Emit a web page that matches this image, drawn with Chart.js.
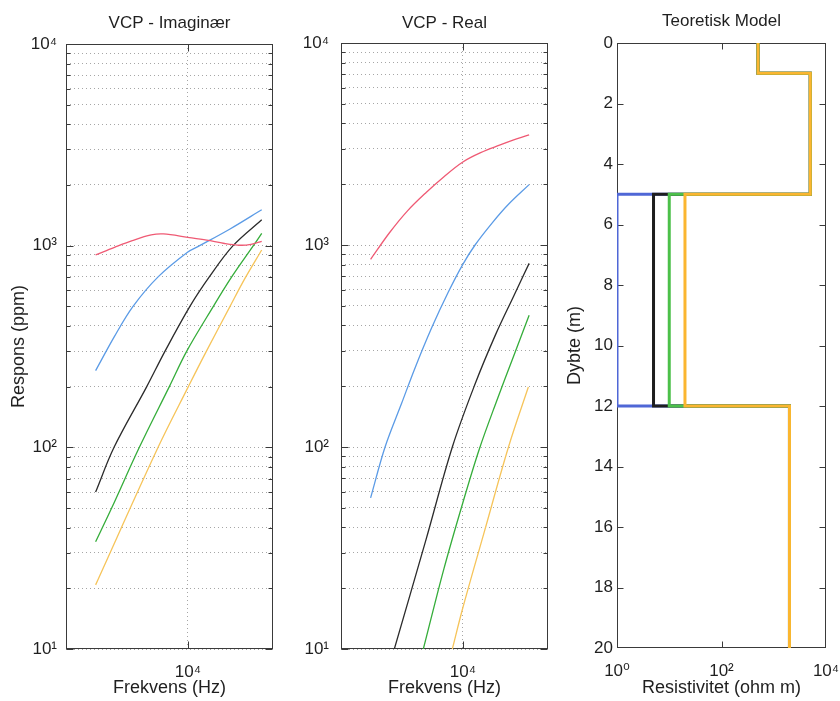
<!DOCTYPE html>
<html>
<head>
<meta charset="utf-8">
<script src="https://cdn.jsdelivr.net/npm/chart.js@4.4.1/dist/chart.umd.min.js"></script>
<style>
  html, body { margin: 0; padding: 0; background: #fff; }
  #wrap { position: relative; width: 840px; height: 701px; overflow: hidden; }
  #wrap canvas { position: absolute; top: 0; }
</style>
</head>
<body>
<div id="wrap">
  <canvas id="imag" width="280" height="701" style="left:0px;width:280px;height:701px"></canvas>
  <canvas id="real" width="280" height="701" style="left:280px;width:280px;height:701px"></canvas>
  <canvas id="model" width="280" height="701" style="left:560px;width:280px;height:701px"></canvas>
</div>
<script>
// ---- VCP response, imaginary part: [frequency Hz, response ppm]
const imagRed    = [[1750,900],[2500,981],[3500,1059],[5000,1130],[6300,1143],[10000,1099],[14300,1064],[20000,1025],[26800,1005],[33000,1015],[40400,1050]];
const imagBlue   = [[1750,240],[2500,355],[3550,500],[5700,700],[10000,930],[12500,1000],[22200,1210],[40400,1507]];
const imagBlack  = [[1750,60],[2480,100],[4600,200],[6500,300],[10400,500],[15000,700],[23500,1000],[40400,1345]];
const imagGreen  = [[1750,34],[2370,50],[4000,100],[7050,200],[9800,300],[16200,500],[22900,700],[34500,1000],[40400,1150]];
const imagYellow = [[1750,20.8],[5700,100],[10100,200],[13800,290],[22200,500],[29500,690],[40400,952]];

// ---- VCP response, real part: [frequency Hz, response ppm]
const realRed    = [[1750,850],[2500,1150],[3500,1472],[5000,1820],[7000,2180],[10000,2578],[14000,2866],[20000,3119],[28000,3361],[35000,3506]];
const realBlue   = [[1750,56],[2300,100],[3150,165],[4060,247],[5560,390],[7600,585],[10000,802],[12600,1000],[17300,1280],[23700,1590],[35000,1990]];
const realBlack  = [[2740,10],[5000,35],[8200,100],[12600,205],[18600,361],[26000,555],[35000,811]];
const realGreen  = [[4740,10],[7000,25],[10000,53],[13600,97],[18950,169],[26000,280],[35000,449]];
const realYellow = [[8200,10],[10000,16],[15000,38],[23700,100],[34500,198]];

// ---- Layered earth models: layer top depths (m) and resistivity (ohm m) per layer
const layerTops   = [0, 1, 5, 12];
const modelBottom = 20;
const resBlue   = [500, 5000, 1, 2000];
const resBlack  = [500, 5000, 5, 2000];
const resGreen  = [500, 5000, 10, 2000];
const resOrange = [500, 5000, 20, 2000];

// ---- Tick values and labels
const freqTicks      = [10000];
const freqTickLabels = ['10⁴'];
const respMajor       = [10, 100, 1000, 10000];
const respMajorLabels = ['10¹', '10²', '10³', '10⁴'];
const depthTicks = [0, 2, 4, 6, 8, 10, 12, 14, 16, 18, 20];
const resTicks      = [1, 100, 10000];
const resTickLabels = ['10⁰', '10²', '10⁴'];

// colours
const C = {
  red: '#ef5a74', blue: '#5b9be6', black: '#2b2b2b', green: '#35ad3a', yellow: '#f6c45a',
  mBlue: '#4f67d6', mBlack: '#1e1e1e', mGreen: '#4cc04a', mOrange: '#fbb630',
  text: '#1f1f1f', frame: '#3a3a3a', grid: '#a6a6a6'
};
const FONT = '"Liberation Sans", Arial, "DejaVu Sans", sans-serif';
Chart.defaults.font.family = FONT;
Chart.defaults.color = C.text;

// dotted minor/major grid positions on the response axis (1..9 x 10^n)
const respGrid = [];
for (let e = 1; e < 4; e++) for (let m = 1; m < 10; m++) respGrid.push(m * Math.pow(10, e));
respGrid.push(10000);

const isDecade = v => Math.abs(Math.log10(v) - Math.round(Math.log10(v))) < 1e-9;
const toPoints = pairs => pairs.map(([x, y]) => ({ x, y }));

// axes box with inward tick marks on all four sides, plus a title centred over the plot area
function framePlugin(title, titleY, yLen, xLen) {
  return {
    id: 'frame',
    beforeDatasetsDraw(chart) {
      const { ctx, chartArea: a, scales } = chart;
      const L = Math.round(a.left) + 0.5, R = Math.round(a.right) - 0.5;
      const T = Math.round(a.top) + 0.5, B = Math.round(a.bottom) - 0.5;
      ctx.save();
      ctx.strokeStyle = C.frame;
      ctx.lineWidth = 1;
      ctx.setLineDash([]);
      ctx.beginPath();
      scales.y.ticks.forEach(t => {
        const len = yLen(t.value);
        if (!len) return;
        const p = Math.round(scales.y.getPixelForValue(t.value)) + 0.5;
        ctx.moveTo(L, p); ctx.lineTo(L + len, p);
        ctx.moveTo(R, p); ctx.lineTo(R - len, p);
      });
      scales.x.ticks.forEach(t => {
        const len = xLen(t.value);
        if (!len) return;
        const p = Math.round(scales.x.getPixelForValue(t.value)) + 0.5;
        ctx.moveTo(p, B); ctx.lineTo(p, B - len);
        ctx.moveTo(p, T); ctx.lineTo(p, T + len);
      });
      ctx.stroke();
      ctx.strokeRect(L, T, R - L, B - T);
      ctx.restore();
    },
    afterDraw(chart) {
      const { ctx, chartArea: a } = chart;
      ctx.save();
      ctx.font = '17px ' + FONT;
      ctx.fillStyle = C.text;
      ctx.textAlign = 'center';
      ctx.textBaseline = 'middle';
      ctx.fillText(title, (a.left + a.right) / 2, titleY);
      ctx.restore();
    }
  };
}

// fixed axis sizes so the three plot areas line up
const noOverhang = s => { s.paddingLeft = 0; s.paddingRight = 0; };

function responseChart(id, title, series, p) {
  return new Chart(document.getElementById(id), {
    type: 'scatter',
    data: {
      datasets: series.map(s => ({
        data: toPoints(s.data),
        borderColor: s.color,
        backgroundColor: s.color,
        borderWidth: 1.3,
        showLine: true,
        tension: 0.35,
        pointRadius: 0,
        pointHoverRadius: 0,
        fill: false
      }))
    },
    options: {
      responsive: false,
      animation: false,
      events: [],
      layout: { padding: { left: 0, right: p.right, top: p.top, bottom: 0 } },
      plugins: {
        legend: { display: false },
        tooltip: { enabled: false },
        title: { display: false }
      },
      scales: {
        x: {
          type: 'logarithmic', min: 1000, max: 50000, position: 'bottom',
          afterBuildTicks: s => { s.ticks = freqTicks.map(v => ({ value: v })); },
          afterFit: s => { s.height = 701 - p.bottomEdge; noOverhang(s); },
          ticks: {
            autoSkip: false, maxRotation: 0, padding: 13, color: C.text,
            font: { size: 17 },
            callback: v => { const i = freqTicks.indexOf(v); return i < 0 ? '' : freqTickLabels[i]; }
          },
          grid: { display: true, drawTicks: false, color: C.grid, lineWidth: 1 },
          border: { display: false, dash: [1, 3] },
          title: {
            display: true, text: 'Frekvens (Hz)', color: C.text,
            font: { size: 18 }, padding: { top: 0, bottom: 2 }
          }
        },
        y: {
          type: 'logarithmic', min: 10, max: 10000, position: 'left',
          afterBuildTicks: s => { s.ticks = respGrid.map(v => ({ value: v })); },
          afterFit: s => { s.width = p.yWidth; },
          ticks: {
            autoSkip: false, padding: p.yPad, color: C.text,
            font: { size: 17 },
            callback: v => { const i = respMajor.indexOf(v); return i < 0 ? '' : respMajorLabels[i]; }
          },
          grid: { display: true, drawTicks: false, color: C.grid, lineWidth: 1 },
          border: { display: false, dash: [1, 3] },
          title: {
            display: !!p.yTitle, text: p.yTitle || '', color: C.text,
            font: { size: 18 }, padding: { top: 8, bottom: 0 }
          }
        }
      }
    },
    plugins: [framePlugin(title, 23, v => (isDecade(v) ? 7 : 4), v => 7)]
  });
}

responseChart('imag', 'VCP - Imaginær', [
  { data: imagRed, color: C.red },
  { data: imagBlue, color: C.blue },
  { data: imagBlack, color: C.black },
  { data: imagGreen, color: C.green },
  { data: imagYellow, color: C.yellow }
], { right: 7, top: 44, yWidth: 66, yPad: 9, yTitle: 'Respons (ppm)', bottomEdge: 649 });

responseChart('real', 'VCP - Real', [
  { data: realRed, color: C.red },
  { data: realBlue, color: C.blue },
  { data: realBlack, color: C.black },
  { data: realGreen, color: C.green },
  { data: realYellow, color: C.yellow }
], { right: 12, top: 43, yWidth: 61, yPad: 12, yTitle: '', bottomEdge: 649 });

// step profile of a layered model: (resistivity, depth) vertices
function stepProfile(res) {
  const pts = [];
  res.forEach((r, i) => {
    const top = layerTops[i];
    const bottom = i + 1 < layerTops.length ? layerTops[i + 1] : modelBottom;
    pts.push({ x: r, y: top }, { x: r, y: bottom });
  });
  return pts;
}

// first dataset is painted last, so orange ends up on top
const models = [
  { res: resOrange, color: C.mOrange },
  { res: resGreen, color: C.mGreen },
  { res: resBlack, color: C.mBlack },
  { res: resBlue, color: C.mBlue }
];

new Chart(document.getElementById('model'), {
  type: 'scatter',
  data: {
    datasets: models.map(m => ({
      data: stepProfile(m.res),
      borderColor: m.color,
      backgroundColor: m.color,
      borderWidth: 3,
      showLine: true,
      tension: 0,
      pointRadius: 0,
      pointHoverRadius: 0,
      borderJoinStyle: 'miter',
      borderCapStyle: 'butt',
      fill: false
    }))
  },
  options: {
    responsive: false,
    animation: false,
    events: [],
    layout: { padding: { left: 0, right: 14, top: 43, bottom: 0 } },
    plugins: {
      legend: { display: false },
      tooltip: { enabled: false },
      title: { display: false }
    },
    scales: {
      x: {
        type: 'logarithmic', min: 1, max: 10000, position: 'bottom',
        afterBuildTicks: s => { s.ticks = resTicks.map(v => ({ value: v })); },
        afterFit: s => { s.height = 701 - 648; noOverhang(s); },
        ticks: {
          autoSkip: false, maxRotation: 0, padding: 13, color: C.text,
          font: { size: 17 },
          callback: v => { const i = resTicks.indexOf(v); return i < 0 ? '' : resTickLabels[i]; }
        },
        grid: { display: false, drawTicks: false },
        border: { display: false },
        title: {
          display: true, text: 'Resistivitet (ohm m)', color: C.text,
          font: { size: 18 }, padding: { top: 0, bottom: 2 }
        }
      },
      y: {
        type: 'linear', min: 0, max: modelBottom, reverse: true, position: 'left',
        afterBuildTicks: s => { s.ticks = depthTicks.map(v => ({ value: v })); },
        afterFit: s => { s.width = 57; },
        ticks: { autoSkip: false, padding: 4, color: C.text, font: { size: 17 } },
        grid: { display: false, drawTicks: false },
        border: { display: false },
        title: {
          display: true, text: 'Dybte (m)', color: C.text,
          font: { size: 18 }, padding: { top: 4, bottom: 0 }
        }
      }
    }
  },
  plugins: [framePlugin('Teoretisk Model', 21, v => (v > 0 && v < modelBottom ? 6 : 0), v => (v > 1 && v < 10000 ? 6 : 0))]
});
</script>
</body>
</html>
